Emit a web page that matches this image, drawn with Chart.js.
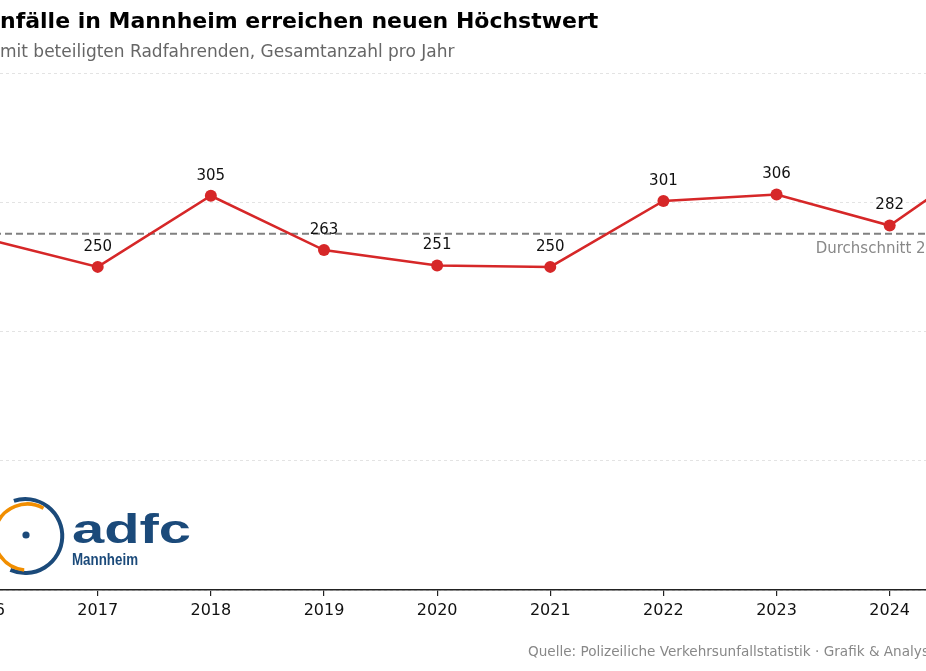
<!DOCTYPE html>
<html lang="de">
<head>
<meta charset="utf-8">
<script src="https://cdn.jsdelivr.net/npm/chart.js@4"></script>
<style>
  html, body {
    margin: 0;
    padding: 0;
    width: 926px;
    height: 671px;
    overflow: hidden;
    background: #fff;
    font-family: "DejaVu Sans", sans-serif;
  }
  #wrap {
    position: absolute;
    left: -272px;
    top: 0;
    width: 1500px;
    height: 671px;
  }
  .title {
    position: absolute;
    left: 0;
    top: 8px;
    font-size: 22px;
    font-weight: bold;
    color: #000;
    white-space: nowrap;
    line-height: 26px;
  }
  .subtitle {
    position: absolute;
    left: 0;
    top: 40px;
    font-size: 17px;
    color: #666;
    white-space: nowrap;
    line-height: 22px;
  }
  .source {
    position: absolute;
    left: 528px;
    top: 641px;
    font-size: 13.6px;
    color: #888;
    white-space: nowrap;
    line-height: 20px;
  }
  #logo {
    position: absolute;
    left: 0;
    top: 480px;
  }
</style>
</head>
<body>
<div id="wrap"><canvas id="lineChart"></canvas></div>
<div class="title">nfälle in Mannheim erreichen neuen Höchstwert</div>
<div class="subtitle">mit beteiligten Radfahrenden, Gesamtanzahl pro Jahr</div>
<div class="source">Quelle: Polizeiliche Verkehrsunfallstatistik · Grafik &amp; Analyse: ADFC Mannheim</div>
<svg id="logo" width="200" height="100" viewBox="0 480 200 100">
  <path d="M13.9 500.8 A37 37 0 1 1 10.4 569.9" fill="none" stroke="#1b4a7a" stroke-width="4"/>
  <path d="M43.5 508.3 A33 33 0 1 0 24.2 569.9" fill="none" stroke="#f18e00" stroke-width="3.5"/>
  <circle cx="26" cy="535" r="3.6" fill="#1b4a7a"/>
  <text x="72" y="543" font-family="Liberation Sans" font-weight="bold" font-size="40" fill="#1b4a7a" textLength="119" lengthAdjust="spacingAndGlyphs">adfc</text>
  <text x="72" y="565" font-family="Liberation Sans" font-weight="bold" font-size="16.5" fill="#1b4a7a" textLength="66" lengthAdjust="spacingAndGlyphs">Mannheim</text>
</svg>
<script>
var years = ['2016', '2017', '2018', '2019', '2020', '2021', '2022', '2023', '2024', '2025'];
var unfaelle = [272, 250, 305, 263, 251, 250, 301, 306, 282, 343];
var yTicks = [0, 100, 200, 300, 400];

var lineRed = '#d62728';

// Durchschnitt over 2016-2024
var avgValues = unfaelle.slice(0, 9);
var avg = 0;
for (var i = 0; i < avgValues.length; i++) {
  avg += avgValues[i];
}
avg = avg / avgValues.length;

var avgLine = {
  id: 'avgLine',
  beforeDatasetsDraw: function(chart) {
    var ctx = chart.ctx;
    var area = chart.chartArea;
    var y = chart.scales.y.getPixelForValue(avg);
    ctx.save();
    ctx.strokeStyle = '#808080';
    ctx.lineWidth = 2;
    ctx.setLineDash([7, 4]);
    ctx.beginPath();
    ctx.moveTo(area.left, y);
    ctx.lineTo(area.right, y);
    ctx.stroke();
    ctx.setLineDash([]);
    ctx.fillStyle = '#888';
    ctx.font = '15px "DejaVu Sans"';
    ctx.textAlign = 'left';
    ctx.textBaseline = 'middle';
    var x = chart.scales.x.getPixelForValue(8) - 74;
    ctx.fillText('Durchschnitt 2016–2024: ' + Math.round(avg), x, y + 15);
    ctx.restore();
  }
};

var valueLabels = {
  id: 'valueLabels',
  afterDatasetsDraw: function(chart) {
    var ctx = chart.ctx;
    var meta = chart.getDatasetMeta(0);
    ctx.save();
    ctx.fillStyle = '#111';
    ctx.font = '15px "DejaVu Sans"';
    ctx.textAlign = 'center';
    ctx.textBaseline = 'middle';
    meta.data.forEach(function(pt, idx) {
      ctx.fillText('' + unfaelle[idx], pt.x, pt.y - 20);
    });
    ctx.restore();
  }
};

var ctx = document.getElementById('lineChart');
var lineChart = new Chart(ctx, {
  type: 'line',
  data: {
    labels: years,
    datasets: [{
      data: unfaelle,
      borderColor: lineRed,
      backgroundColor: lineRed,
      borderWidth: 2.5,
      pointRadius: 6,
      pointBackgroundColor: lineRed,
      pointBorderColor: lineRed,
      pointBorderWidth: 0,
      tension: 0,
    }],
  },
  options: {
    responsive: true,
    maintainAspectRatio: false,
    animation: false,
    events: [],
    layout: {
      padding: { left: 200, right: 168.6, top: 73, bottom: 0 },
    },
    plugins: {
      legend: { display: false },
      tooltip: { enabled: false },
    },
    scales: {
      x: {
        type: 'category',
        offset: true,
        grid: {
          offset: false,
          drawOnChartArea: false,
          drawTicks: true,
          tickLength: 6,
          color: '#222',
          lineWidth: 1.2,
        },
        border: { display: true, color: '#222', width: 1.5 },
        ticks: {
          color: '#111',
          font: { family: 'DejaVu Sans', size: 16 },
          padding: 5,
          maxRotation: 0,
          autoSkip: false,
        },
        afterFit: function(scale) {
          scale.height = 81;
        },
      },
      y: {
        min: yTicks[0],
        max: yTicks[yTicks.length - 1],
        afterBuildTicks: function(scale) {
          scale.ticks = yTicks.map(function(v) { return { value: v }; });
        },
        grid: {
          color: '#e3e3e3',
          lineWidth: 1,
          drawTicks: false,
        },
        border: { display: false, dash: [3, 3] },
        ticks: { display: false },
        afterFit: function(scale) {
          scale.width = 0;
        },
      },
    },
  },
  plugins: [avgLine, valueLabels],
});
</script>
</body>
</html>
